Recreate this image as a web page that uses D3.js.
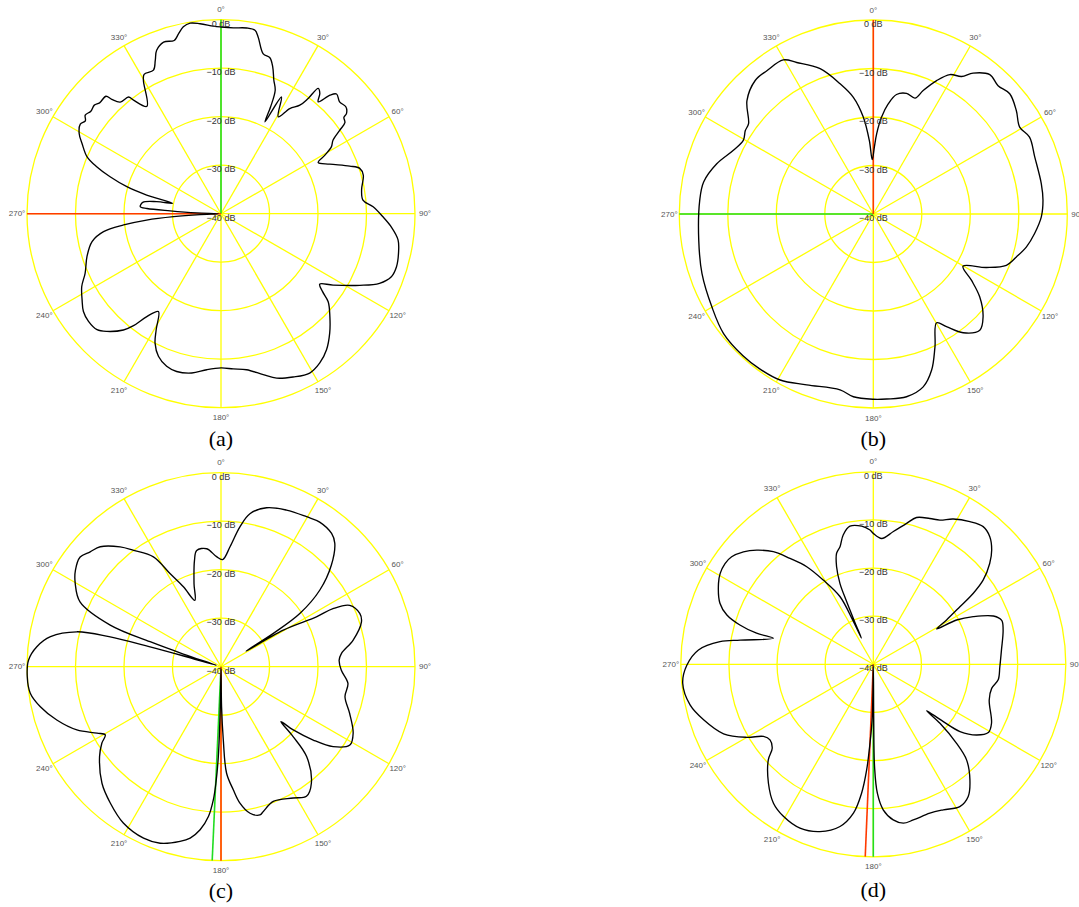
<!DOCTYPE html>
<html lang="en">
<head>
<meta charset="UTF-8">
<title>Radiation patterns</title>
<style>
  body { margin: 0; background: #fff; }
  .grid circle, .grid line { fill: none; stroke: #ffff00; stroke-width: 1.3; }
  .ang { font-family: "Liberation Sans", Arial, sans-serif; font-size: 8px; fill: #555; }
  .dbl { font-family: "Liberation Sans", Arial, sans-serif; font-size: 9px; fill: #333; }
  .cap { font-family: "Liberation Serif", "Times New Roman", serif; font-size: 22px; fill: #000; }
  .pattern { fill: none; stroke: #000; stroke-width: 1.35; stroke-linejoin: round; }
</style>
</head>
<body>
<script src="https://cdn.jsdelivr.net/npm/d3@7"></script>
<script>
// pattern (a): angle in degrees, level in dB
var anglesA = [0, 3.8, 7.9, 10.5, 11.9, 14.8, 17.4, 19.4, 21.6, 23.7, 24.9, 25.6, 27.4, 30.6, 33.2, 36, 37.1, 37.8, 39.4, 41,
  42.6, 44, 46.7, 49.4, 51.4, 51.9, 53.7, 54.9, 56.7, 58.8, 60.6, 62.2, 65.5, 69.7, 71.9, 74.8, 80.4, 84.5, 87.4, 91.1,
  94.4, 98.4, 102.6, 106.8, 110.3, 113.7, 117.3, 122.5, 125.5, 127.5, 129.4, 133.4, 137.7, 142.2, 146.5, 150.9, 156.2, 161.3, 165.3, 170.7,
  175.5, 180, 185.2, 190.4, 195.7, 199.6, 203.7, 207, 209.2, 212.6, 215.8, 218, 220, 224.1, 226.9, 230.9, 234.6, 238.2, 242.4, 246.3,
  252.3, 257.8, 261.3, 263.4, 265.1, 266.4, 267.5, 269.5, 272, 273.2, 274, 274.9, 278.2, 280.6, 282.1, 284.1, 286, 288.4, 290.7, 293,
  296.8, 299.5, 302.5, 304.4, 306, 308.2, 310.6, 312.4, 315.6, 316.3, 317.9, 321.6, 322.4, 325.4, 329.8, 331.1, 334.8, 336.8, 338.5, 341.5,
  344.9, 346.7, 348.6, 350.8, 353.7, 357.7]
var dbA = [-1.5, -1.6, -1.35, -1.55, -2.8, -5.9, -6.3, -7.9, -10.4, -12.2, -15.7, -19, -12.9, -16.8, -14.1, -12.35, -10.2, -7.3, -7.9, -9.45,
  -6.8, -5.7, -6.4, -6.1, -6.9, -7.8, -8.3, -10.05, -12.35, -13.4, -15.4, -17.35, -15.35, -11.7, -9.9, -9.6, -10.6, -10.6, -8.6, -6.6,
  -4.8, -3.1, -2.5, -2.2, -2.55, -4.3, -7.8, -12.6, -15, -13.6, -11.4, -9.1, -6.7, -4.5, -3.1, -2.4, -3.2, -4.2, -5.7, -7.4,
  -7.9, -8.2, -7.7, -6.6, -6.2, -6.6, -7.9, -10.05, -12.6, -16.05, -13.85, -10.7, -8.7, -6.2, -5, -4.8, -5.2, -6.3, -7.6, -9.4,
  -11, -12.8, -15.5, -19.8, -24.6, -30.2, -35.7, -39.5, -35, -29.5, -24.7, -23.3, -23.7, -26.5, -29.8, -24.2, -19.8, -15.9, -12.6, -10,
  -7.9, -6.4, -5.6, -6.1, -5.4, -5.85, -5.6, -6.1, -6.1, -7.4, -9, -9.3, -10.45, -13.1, -8.2, -7.2, -7.3, -5.6, -3.8, -2.7,
  -3, -1.9, -0.7, -0.2, -0.6, -1.3]

// pattern (b)
var anglesB = [0.9, 2.4, 4.9, 7.7, 11, 15.4, 19.8, 22, 25.4, 28.8, 32.7, 35.3, 39.9, 44.2, 48.6, 54.1, 59.3, 63.8, 70.6, 79.8,
  85.4, 91, 96.9, 102.1, 106.7, 111.1, 115.3, 120.2, 124, 127.9, 133.1, 137.5, 142.9, 147, 149.8, 155.1, 159.5, 163.9, 169.7, 175.9,
  180, 186.2, 190.7, 201.3, 209.3, 216.4, 222.6, 231.4, 240.1, 250.8, 261.4, 274.5, 280.7, 287.8, 294.5, 299.5, 303.1, 305.9, 311.9, 318.5,
  323.4, 329.7, 333.2, 339.9, 345.7, 350.3, 354.1, 356.9, 358.9]
var dbB = [-26.2, -23.45, -19.95, -17.1, -14.9, -14.2, -14.6, -12.55, -9.55, -7.2, -6.3, -4.4, -2.55, -3.1, -2.5, -3.6, -4.9, -4.1, -4.7, -4.8,
  -4.9, -5.35, -6.5, -7.7, -9.2, -10.6, -14.2, -18.6, -15.6, -12.2, -9, -7.5, -9.3, -12.3, -14.05, -9.8, -5.65, -2.9, -1.7, -1.75,
  -1.8, -2.1, -3.1, -2.2, -0.75, -0.4, -0.3, -0.5, -1.6, -2.6, -3.6, -4.1, -4.4, -6.1, -8.3, -9.2, -8.5, -8.25, -5, -3.25,
  -3.2, -3.2, -5, -8.1, -12.3, -15.6, -19.9, -24.8, -28.8]

// pattern (c)
var anglesC = [0.9, 4.3, 7.7, 10.7, 16, 22.7, 29.7, 34.3, 39.7, 42.7, 47.4, 52.2, 56, 57.5, 58.1, 59.5, 62.4, 62.6, 64.5, 69,
  72.3, 78.6, 83.7, 86.8, 91.6, 97.5, 103.6, 109.9, 116.7, 121.3, 125.5, 128.5, 131.2, 132.5, 134.1, 136.4, 142.2, 146.6, 151.2, 158.8,
  163.7, 165.3, 168.8, 172.1, 174.3, 177, 178.2, 179.2, 180, 181, 181.7, 182.5, 183.3, 184.8, 187.3, 190.2, 193.2, 199, 204.3, 212,
  219.1, 225.6, 233.5, 237.3, 239.5, 241.8, 246.3, 252, 257.5, 262.1, 267.1, 272, 276.2, 280, 283.6, 285, 285.6, 286, 287, 288.6,
  289.4, 290.6, 294.7, 299.7, 303.5, 307.9, 311.3, 314.8, 319.9, 323.1, 328.4, 331.3, 334.8, 338.5, 342, 346, 348.2, 353.1, 357.7]
var dbC = [-17.9, -15.2, -10.9, -7.9, -5.9, -5, -4.4, -3.9, -4.3, -5.4, -9.1, -14.2, -20.4, -27.2, -33.9, -25.1, -17.8, -14, -10.6, -9.35,
  -9.6, -12.2, -15, -15.6, -15.2, -13.6, -13.7, -11.8, -9.5, -8.9, -11.6, -15.7, -20.2, -23.25, -19.3, -14.4, -9.6, -8, -9.1, -10.2,
  -8.9, -8.4, -9.2, -11.6, -14.5, -18, -24.9, -31.8, -39.5, -31.8, -21.5, -16, -12.5, -9, -6.1, -4.1, -3, -1.5, -1.2, -2,
  -3.8, -5.65, -8.85, -10.8, -12.3, -11, -7.55, -4.4, -1.85, -0.3, 0, -0.3, -1.8, -4.3, -9.4, -16.1, -24.6, -32, -39, -31.8,
  -24.5, -15.6, -8, -5.4, -4, -3.2, -4.1, -4.9, -7.7, -10, -13.4, -18.1, -21.8, -25.3, -22, -17.4, -15.5, -15.5, -17.3]

// pattern (d)
var anglesD = [0, 3.8, 8.6, 13.3, 16.4, 21.2, 24.8, 28.8, 34.1, 38.6, 42.4, 46, 49.1, 52.5, 54.6, 56.4, 58.8, 60.8, 62, 64.5,
  68.1, 71.1, 75.2, 83.6, 91.1, 97.1, 101.5, 107.1, 116.5, 120.7, 124.4, 127.8, 129.3, 131, 131.5, 133.5, 135.7, 140.1, 144.3, 148.7,
  154.3, 159.2, 165.6, 169.3, 172.7, 176.1, 178.2, 179.3, 179.6, 180, 181.1, 182.4, 183.6, 185.2, 187.6, 191.6, 197.7, 204.1, 210.6, 215.7,
  221.4, 227.7, 230.3, 233.8, 236.7, 240, 245.1, 251.9, 257.5, 264.3, 269.7, 274.7, 278.4, 280.3, 284.6, 284.9, 286.4, 288.6, 291.7, 297.6,
  300.7, 304.2, 307.2, 310.9, 314.4, 318.4, 321.8, 325.7, 329.3, 333.8, 335, 335.6, 336.3, 337, 337.6, 339.4, 341.7, 344.2, 346.9, 350.4,
  355.2, 358.6]
var dbD = [-12.8, -13.8, -12.1, -9.9, -8.2, -7.5, -7, -5.55, -4.2, -3.4, -4.1, -5.8, -8, -11.2, -14.5, -18.4, -22.2, -24.9, -20.4, -17,
  -13.1, -11.8, -12.1, -13.2, -13.7, -13.85, -14.9, -14.8, -12.55, -12.2, -14, -17.2, -21.2, -25.3, -21.5, -16.2, -12.25, -8.7, -6.2, -5.4,
  -6.45, -6.9, -6.6, -6.4, -7.4, -9.7, -13.2, -18.75, -29.1, -39.5, -29.1, -23.6, -18, -13.1, -8.8, -5.6, -3.5, -2.7, -3.3, -4.45,
  -7.05, -10.5, -12.7, -13.4, -12.7, -9.65, -5.7, -2.9, -1, -0.2, -1.25, -3.55, -7.8, -11.9, -18.55, -14.9, -11.1, -7.9, -5.7, -3.7,
  -3, -2.75, -3.05, -4.3, -6.1, -8.7, -12, -15.45, -19.65, -24.3, -29.9, -34, -30.5, -25.5, -21.8, -18.3, -15.7, -14.6, -12.4, -10.9,
  -11.2, -12.1]

// grid and labels
var ringDb = [-30, -20, -10, 0]
var dbTicks = [0, -10, -20, -30, -40]
var dbTickLabels = ["0 dB", "\u221210 dB", "\u221220 dB", "\u221230 dB", "\u221240 dB"]
var spokeAngles = d3.range(0, 360, 30)
var angleLabels = ["0°", "30°", "60°", "90°", "120°", "150°", "180°", "210°", "240°", "270°", "300°", "330°"]
var captions = ["(a)", "(b)", "(c)", "(d)"]
// reference directions drawn in green and red
var greenAngles = [0, 270, 182.6, 180]
var redAngles = [270, 0, 180, 182.4]

var allAngles = [anglesA, anglesB, anglesC, anglesD]
var allDb = [dbA, dbB, dbC, dbD]

// panel layout
var panels = [
  {cx: 221, cy: 213.7, r: 194, capY: 438},
  {cx: 873.3, cy: 214, r: 194, capY: 438},
  {cx: 221, cy: 666.7, r: 194, capY: 890},
  {cx: 873.3, cy: 664.3, r: 192.5, capY: 889}
]

var width = 1079, height = 907
var svg = d3.select('body').append('svg')
  .attr('width', width)
  .attr('height', height)

var toRad = d3.scaleLinear().domain([0, 360]).range([0, 2 * Math.PI])

panels.forEach(function (p, i) {
  var rScale = d3.scaleLinear().domain([-40, 0]).range([0, p.r])
  var g = svg.append('g').attr('transform', 'translate(' + p.cx + ',' + p.cy + ')')

  // yellow grid
  var grid = g.append('g').attr('class', 'grid')
  grid.selectAll('circle').data(ringDb).enter().append('circle')
    .attr('r', function (d) { return rScale(d) })
  grid.selectAll('line').data(spokeAngles).enter().append('line')
    .attr('x1', 0).attr('y1', 0)
    .attr('x2', function (d) { return Math.sin(toRad(d)) * p.r })
    .attr('y2', function (d) { return -Math.cos(toRad(d)) * p.r })

  // reference lines
  var refs = [{a: greenAngles[i], c: '#22dd22'}, {a: redAngles[i], c: '#ff3a00'}]
  g.selectAll('.ref').data(refs).enter().append('line')
    .attr('class', 'ref')
    .attr('x1', 0).attr('y1', 0)
    .attr('x2', function (d) { return Math.sin(toRad(d.a)) * p.r })
    .attr('y2', function (d) { return -Math.cos(toRad(d.a)) * p.r })
    .attr('stroke', function (d) { return d.c })
    .attr('stroke-width', 1.6)

  // measured pattern
  var pts = allAngles[i].map(function (a, k) { return [a, allDb[i][k]] })
  var line = d3.lineRadial()
    .angle(function (d) { return toRad(d[0]) })
    .radius(function (d) { return rScale(Math.max(-40, d[1])) })
    .curve(d3.curveCatmullRomClosed.alpha(0.5))
  g.append('path').attr('class', 'pattern').attr('d', line(pts))

  // dB labels along 0° spoke
  g.selectAll('.dbl').data(dbTicks).enter().append('text')
    .attr('class', 'dbl')
    .attr('x', 0)
    .attr('y', function (d) { return -rScale(d) + 4 })
    .attr('text-anchor', 'middle')
    .attr('dominant-baseline', 'central')
    .text(function (d, k) { return dbTickLabels[k] })

  // angle labels
  g.selectAll('.ang').data(spokeAngles).enter().append('text')
    .attr('class', 'ang')
    .attr('x', function (d) { return Math.sin(toRad(d)) * (p.r + 10) })
    .attr('y', function (d) { return -Math.cos(toRad(d)) * (p.r + 10) })
    .attr('text-anchor', 'middle')
    .attr('dominant-baseline', 'central')
    .text(function (d, k) { return angleLabels[k] })

  svg.append('text')
    .attr('class', 'cap')
    .attr('x', p.cx)
    .attr('y', p.capY)
    .attr('text-anchor', 'middle')
    .attr('dominant-baseline', 'central')
    .text(captions[i])
})
</script>
</body>
</html>
